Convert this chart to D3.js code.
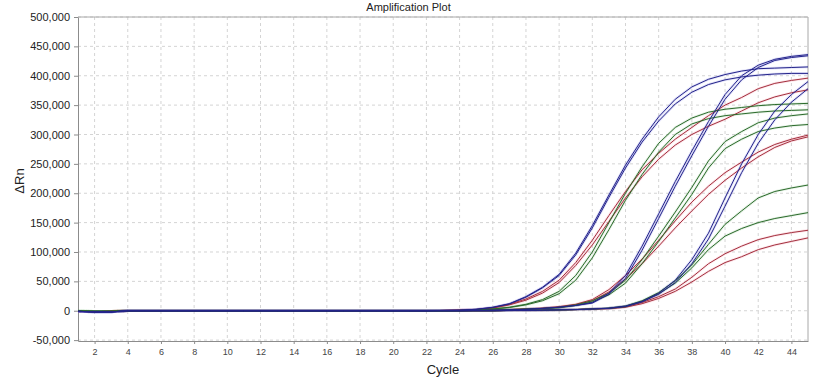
<!DOCTYPE html>
<html>
<head>
<meta charset="utf-8">
<script src="https://cdn.jsdelivr.net/npm/d3@7"></script>
<style>
    body { margin: 0; background: #fff; }
    svg { display: block; font-family: "Liberation Sans", Arial, sans-serif; }
    .grid line { stroke: #d4d4d4; stroke-dasharray: 3,3; }
    .axis path, .axis line { stroke: #8c8c8c; }
    .y-axis text { font-size: 11px; fill: #222; }
    .x-axis text { font-size: 9px; fill: #444; }
    .halo { fill: none; stroke-width: 2.6; stroke-opacity: 0.16; }
    .curve { fill: none; stroke-width: 1; }
</style>
</head>
<body>
<div id="chart"></div>
<script>
// cycle numbers
const cycles = [1,2,3,4,5,6,7,8,9,10,11,12,13,14,15,16,17,18,19,20,21,22,23,24,25,26,27,28,29,30,31,32,33,34,35,36,37,38,39,40,41,42,43,44,45];

// ΔRn values in thousands, one entry per cycle
const blueA1  = [-1,-2,-2,0,0,0,0,0,0,0,0,0,0,0,0,0,0,0,0,0,0,0,0.5,1,2.5,6,12,24,40,62,98,145,197,248,292,330,360,381,394,402,408,412,413,414,415];
const blueA2  = [-1,-2,-2,0,0,0,0,0,0,0,0,0,0,0,0,0,0,0,0,0,0,0,0.5,1,2.5,5.5,11.5,23,39,60,95,141,193,243,287,323,352,372,385,393,398,401,403,404,404];
const redA1   = [-1,-1.5,-1,0,0,0,0,0,0,0,0,0,0,0,0,0,0,0,0,0,0,0,0.5,1,2,5,11,20,33,52,82,120,162,203,240,268,292,312,332,350,363,378,387,392,396];
const redA2   = [-1,-1.5,-1,0,0,0,0,0,0,0,0,0,0,0,0,0,0,0,0,0,0,0,0.5,1,2,4.5,10,18,30,48,77,112,152,192,228,258,282,300,314,326,340,354,364,371,376];
const greenA1 = [-0.5,-1,-1,0,0,0,0,0,0,0,0,0,0,0,0,0,0,0,0,0,0,0,0,0.5,1.5,3,6,11,19,33,60,100,150,200,245,285,312,328,338,343,346,349,351,352,353];
const greenA2 = [-0.5,-1,-1,0,0,0,0,0,0,0,0,0,0,0,0,0,0,0,0,0,0,0,0,0.5,1.5,3,5.5,10,17,29,52,90,138,188,232,270,300,318,327,332,335,338,340,341,342];

const blueB1  = [-1,-2,-2,0,0,0,0,0,0,0,0,0,0,0,0,0,0,0,0,0,0,0,0,0,0.5,1,1.5,2.5,4,6,9,14,30,60,110,165,220,272,322,368,400,418,428,433,436];
const blueB2  = [-1,-2,-2,0,0,0,0,0,0,0,0,0,0,0,0,0,0,0,0,0,0,0,0,0,0.5,1,1.5,2.5,4,6,9,13,28,55,103,157,212,264,314,360,393,414,426,431,434];
const redB1   = [-1,-1.5,-1,0,0,0,0,0,0,0,0,0,0,0,0,0,0,0,0,0,0,0,0,0,0.5,1,2,3,4.5,7,11,19,36,60,88,120,153,185,212,235,253,270,283,292,299];
const redB2   = [-1,-1.5,-1,0,0,0,0,0,0,0,0,0,0,0,0,0,0,0,0,0,0,0,0,0,0.5,1,2,3,4,6,10,17,32,54,80,110,141,170,198,222,243,262,278,289,296];
const greenB1 = [-0.5,-1,-1,0,0,0,0,0,0,0,0,0,0,0,0,0,0,0,0,0,0,0,0,0,0.5,1,2,3,4,6,10,17,30,52,87,127,168,210,255,288,305,320,328,332,335];
const greenB2 = [-0.5,-1,-1,0,0,0,0,0,0,0,0,0,0,0,0,0,0,0,0,0,0,0,0,0,0.5,1,1.5,2.5,3.5,5,9,15,27,47,80,118,158,198,243,276,292,305,311,315,317];

const blueC1  = [-1,-2,-2,0,0,0,0,0,0,0,0,0,0,0,0,0,0,0,0,0,0,0,0,0,0,0,0.5,0.5,1,1.5,2,3,4.5,8,16,30,52,87,132,192,250,300,340,368,390];
const blueC2  = [-1,-2,-2,0,0,0,0,0,0,0,0,0,0,0,0,0,0,0,0,0,0,0,0,0,0,0,0.5,0.5,1,1.5,2,3,4,7,15,28,48,80,122,178,235,285,325,355,378];
const redC1   = [-1,-1.5,-1,0,0,0,0,0,0,0,0,0,0,0,0,0,0,0,0,0,0,0,0,0,0,0,0.5,0.5,1,1.5,2,3,4,7,14,24,37,57,80,97,110,121,128,133,137];
const redC2   = [-1,-1.5,-1,0,0,0,0,0,0,0,0,0,0,0,0,0,0,0,0,0,0,0,0,0,0,0,0.5,0.5,1,1.5,2,3,3.5,6,12,21,33,49,67,82,92,104,112,118,124];
const greenC1 = [-0.5,-1,-1,0,0,0,0,0,0,0,0,0,0,0,0,0,0,0,0,0,0,0,0,0,0,0,0.5,0.5,1,1.5,2,3,4.5,8,17,31,51,78,113,147,170,192,203,209,214];
const greenC2 = [-0.5,-1,-1,0,0,0,0,0,0,0,0,0,0,0,0,0,0,0,0,0,0,0,0,0,0,0,0.5,0.5,1,1.5,2,3,4,7,16,29,47,73,104,127,140,150,157,162,167];

const xTicks = [2,4,6,8,10,12,14,16,18,20,22,24,26,28,30,32,34,36,38,40,42,44];
const yTicks = [-50,0,50,100,150,200,250,300,350,400,450,500];

const colors = {
    red:   {line: '#a3303e', halo: '#f0607a'},
    green: {line: '#2c6a2c', halo: '#5fb05f'},
    blue:  {line: '#24248a', halo: '#4a4ad8'}
};

// draw order: red, green, blue on top
const series = [
    {color: 'red', values: redA1}, {color: 'red', values: redA2},
    {color: 'red', values: redB1}, {color: 'red', values: redB2},
    {color: 'red', values: redC1}, {color: 'red', values: redC2},
    {color: 'green', values: greenA1}, {color: 'green', values: greenA2},
    {color: 'green', values: greenB1}, {color: 'green', values: greenB2},
    {color: 'green', values: greenC1}, {color: 'green', values: greenC2},
    {color: 'blue', values: blueA1}, {color: 'blue', values: blueA2},
    {color: 'blue', values: blueB1}, {color: 'blue', values: blueB2},
    {color: 'blue', values: blueC1}, {color: 'blue', values: blueC2}
];

const width = 817, height = 378;
const margin = {top: 17, right: 9, bottom: 37, left: 78};
const innerW = width - margin.left - margin.right;
const innerH = height - margin.top - margin.bottom;

const svg = d3.select('#chart').append('svg')
    .attr('width', width)
    .attr('height', height);

const chart = svg.append('g')
    .attr('transform', `translate(${margin.left}, ${margin.top})`);

const xScale = d3.scaleLinear()
    .domain([1, 45])
    .range([0, innerW]);
const yScale = d3.scaleLinear()
    .domain([-51.5, 500])
    .range([innerH, 0]);

// dashed grid
chart.append('g')
    .attr('class', 'grid')
    .selectAll('line.v')
    .data(xTicks)
    .join('line')
    .attr('x1', d => xScale(d)).attr('x2', d => xScale(d))
    .attr('y1', 0).attr('y2', innerH);
chart.append('g')
    .attr('class', 'grid')
    .selectAll('line.h')
    .data(yTicks)
    .join('line')
    .attr('x1', 0).attr('x2', innerW)
    .attr('y1', d => yScale(d)).attr('y2', d => yScale(d));

// plot frame top/right
chart.append('line')
    .attr('x1', 0).attr('x2', innerW).attr('y1', 0).attr('y2', 0)
    .attr('stroke', '#a8a8a8');
chart.append('line')
    .attr('x1', innerW).attr('x2', innerW).attr('y1', 0).attr('y2', innerH)
    .attr('stroke', '#a8a8a8');

const xAxis = d3.axisBottom(xScale)
    .tickValues(xTicks)
    .tickSize(3)
    .tickSizeOuter(0)
    .tickPadding(5);
const yAxis = d3.axisLeft(yScale)
    .tickValues(yTicks)
    .tickSize(4)
    .tickSizeOuter(0)
    .tickPadding(4)
    .tickFormat(d => d3.format(',')(d * 1000).replace('\u2212', '-'));

chart.append('g')
    .attr('class', 'axis x-axis')
    .attr('transform', `translate(0, ${innerH})`)
    .call(xAxis);
chart.append('g')
    .attr('class', 'axis y-axis')
    .call(yAxis);

const line = d3.line()
    .x((d, i) => xScale(cycles[i]))
    .y(d => yScale(d));

const plot = chart.append('g');
plot.selectAll('path.halo')
    .data(series)
    .join('path')
    .attr('class', 'halo')
    .attr('stroke', d => colors[d.color].halo)
    .attr('d', d => line(d.values));
plot.selectAll('path.curve')
    .data(series)
    .join('path')
    .attr('class', 'curve')
    .attr('stroke', d => colors[d.color].line)
    .attr('d', d => line(d.values));

// titles
svg.append('text')
    .attr('x', width / 2)
    .attr('y', 11)
    .attr('text-anchor', 'middle')
    .style('font-size', '11px')
    .attr('fill', '#222')
    .text('Amplification Plot');
svg.append('text')
    .attr('x', margin.left + innerW / 2)
    .attr('y', 374)
    .attr('text-anchor', 'middle')
    .style('font-size', '13px')
    .attr('fill', '#222')
    .text('Cycle');
svg.append('text')
    .attr('transform', `translate(24, 181) rotate(-90)`)
    .attr('text-anchor', 'middle')
    .style('font-size', '13px')
    .attr('fill', '#222')
    .text('ΔRn');
</script>
</body>
</html>
